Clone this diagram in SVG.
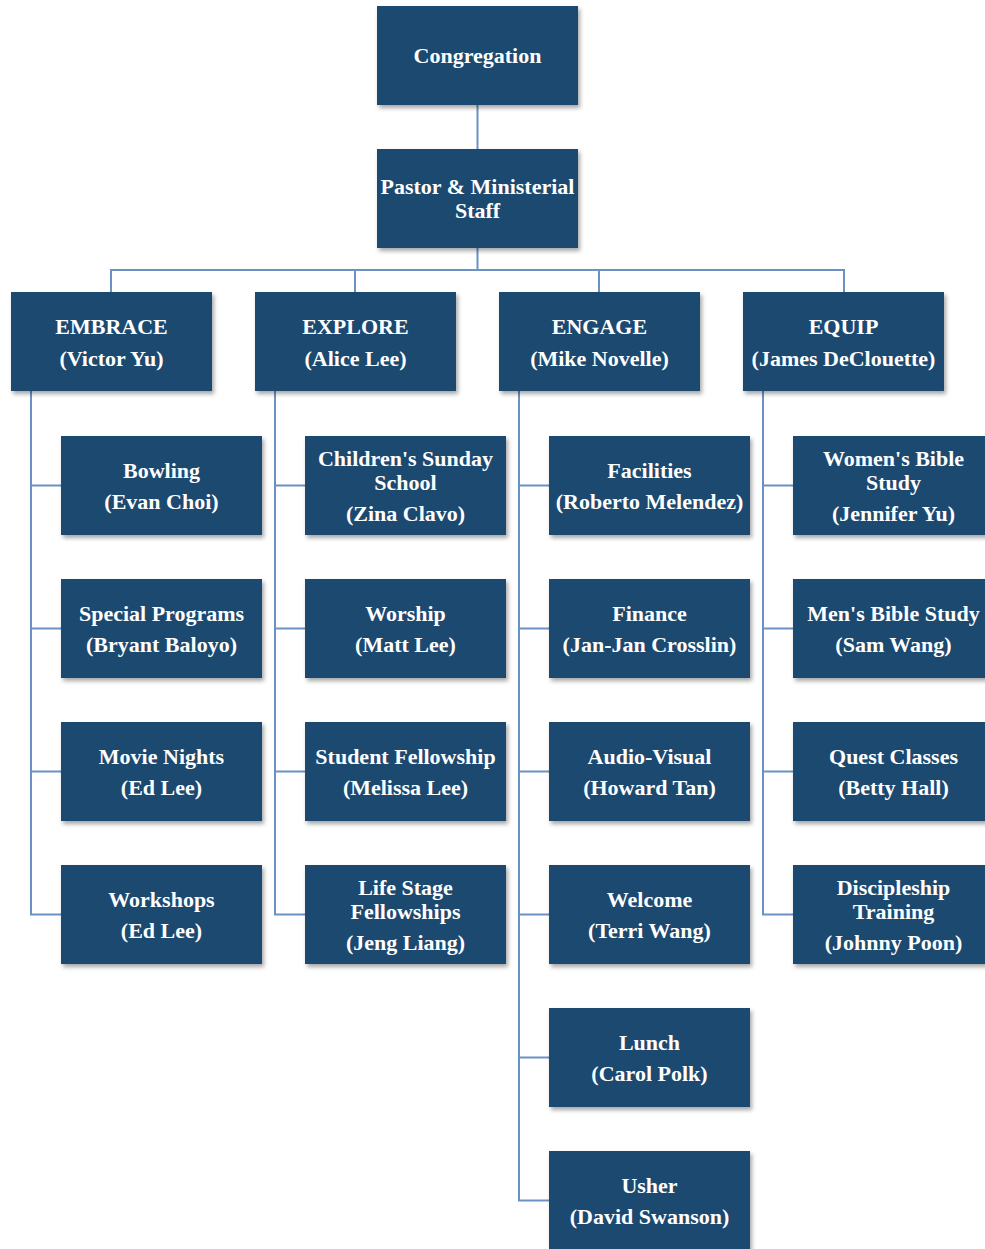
<svg xmlns="http://www.w3.org/2000/svg" width="985" height="1249" viewBox="0 0 985 1249">
<defs>
<filter id="sh" x="-10%" y="-10%" width="125%" height="130%">
<feDropShadow dx="2" dy="3" stdDeviation="2" flood-color="#000" flood-opacity="0.35"/>
</filter>
</defs>
<style>
.box{fill:#1F4870;filter:url(#sh);}
.t{font-family:"Liberation Serif","Times New Roman",serif;font-weight:bold;font-size:22px;fill:#fff;text-anchor:middle;}
.c{fill:none;stroke:#6A92C4;stroke-width:2;}
</style>
<rect width="985" height="1249" fill="#fff"/>
<g id="connectors">
<path class="c" d="M477.5 105V149M477.5 248V270M111 292V270H844V292M355 270V292M599 270V292"/>
<path class="c" d="M31 391V914.5H61M31 485.5H61M31 628.5H61M31 771.5H61"/>
<path class="c" d="M275 391V914.5H305M275 485.5H305M275 628.5H305M275 771.5H305"/>
<path class="c" d="M519 391V1200.5H549M519 485.5H549M519 628.5H549M519 771.5H549M519 914.5H549M519 1057.5H549"/>
<path class="c" d="M763 391V914.5H793M763 485.5H793M763 628.5H793M763 771.5H793"/>
</g>
<g id="congregation"><rect class="box" x="377" y="6" width="201" height="99"/><text class="t" x="477.5" y="63">Congregation</text></g>
<g id="pastor"><rect class="box" x="377" y="149" width="201" height="99"/><text class="t" x="477.5" y="194">Pastor &amp; Ministerial</text><text class="t" x="477.5" y="218">Staff</text></g>
<g id="embrace"><rect class="box" x="11" y="292" width="201" height="99"/><text class="t" x="111.5" y="334">EMBRACE</text><text class="t" x="111.5" y="366">(Victor Yu)</text></g>
<g id="explore"><rect class="box" x="255" y="292" width="201" height="99"/><text class="t" x="355.5" y="334">EXPLORE</text><text class="t" x="355.5" y="366">(Alice Lee)</text></g>
<g id="engage"><rect class="box" x="499" y="292" width="201" height="99"/><text class="t" x="599.5" y="334">ENGAGE</text><text class="t" x="599.5" y="366">(Mike Novelle)</text></g>
<g id="equip"><rect class="box" x="743" y="292" width="201" height="99"/><text class="t" x="843.5" y="334">EQUIP</text><text class="t" x="843.5" y="366">(James DeClouette)</text></g>

<g id="bowling"><rect class="box" x="61" y="436" width="201" height="99"/><text class="t" x="161.5" y="478">Bowling</text><text class="t" x="161.5" y="509">(Evan Choi)</text></g>
<g id="special-programs"><rect class="box" x="61" y="579" width="201" height="99"/><text class="t" x="161.5" y="621">Special Programs</text><text class="t" x="161.5" y="652">(Bryant Baloyo)</text></g>
<g id="movie-nights"><rect class="box" x="61" y="722" width="201" height="99"/><text class="t" x="161.5" y="764">Movie Nights</text><text class="t" x="161.5" y="795">(Ed Lee)</text></g>
<g id="workshops"><rect class="box" x="61" y="865" width="201" height="99"/><text class="t" x="161.5" y="907">Workshops</text><text class="t" x="161.5" y="938">(Ed Lee)</text></g>

<g id="childrens-sunday-school"><rect class="box" x="305" y="436" width="201" height="99"/><text class="t" x="405.5" y="466">Children's Sunday</text><text class="t" x="405.5" y="490">School</text><text class="t" x="405.5" y="521">(Zina Clavo)</text></g>
<g id="worship"><rect class="box" x="305" y="579" width="201" height="99"/><text class="t" x="405.5" y="621">Worship</text><text class="t" x="405.5" y="652">(Matt Lee)</text></g>
<g id="student-fellowship"><rect class="box" x="305" y="722" width="201" height="99"/><text class="t" x="405.5" y="764">Student Fellowship</text><text class="t" x="405.5" y="795">(Melissa Lee)</text></g>
<g id="life-stage-fellowships"><rect class="box" x="305" y="865" width="201" height="99"/><text class="t" x="405.5" y="895">Life Stage</text><text class="t" x="405.5" y="919">Fellowships</text><text class="t" x="405.5" y="950">(Jeng Liang)</text></g>

<g id="facilities"><rect class="box" x="549" y="436" width="201" height="99"/><text class="t" x="649.5" y="478">Facilities</text><text class="t" x="649.5" y="509">(Roberto Melendez)</text></g>
<g id="finance"><rect class="box" x="549" y="579" width="201" height="99"/><text class="t" x="649.5" y="621">Finance</text><text class="t" x="649.5" y="652">(Jan-Jan Crosslin)</text></g>
<g id="audio-visual"><rect class="box" x="549" y="722" width="201" height="99"/><text class="t" x="649.5" y="764">Audio-Visual</text><text class="t" x="649.5" y="795">(Howard Tan)</text></g>
<g id="welcome"><rect class="box" x="549" y="865" width="201" height="99"/><text class="t" x="649.5" y="907">Welcome</text><text class="t" x="649.5" y="938">(Terri Wang)</text></g>
<g id="lunch"><rect class="box" x="549" y="1008" width="201" height="99"/><text class="t" x="649.5" y="1050">Lunch</text><text class="t" x="649.5" y="1081">(Carol Polk)</text></g>
<g id="usher"><rect class="box" x="549" y="1151" width="201" height="99"/><text class="t" x="649.5" y="1193">Usher</text><text class="t" x="649.5" y="1224">(David Swanson)</text></g>

<g id="womens-bible-study"><rect class="box" x="793" y="436" width="201" height="99"/><text class="t" x="893.5" y="466">Women's Bible</text><text class="t" x="893.5" y="490">Study</text><text class="t" x="893.5" y="521">(Jennifer Yu)</text></g>
<g id="mens-bible-study"><rect class="box" x="793" y="579" width="201" height="99"/><text class="t" x="893.5" y="621">Men's Bible Study</text><text class="t" x="893.5" y="652">(Sam Wang)</text></g>
<g id="quest-classes"><rect class="box" x="793" y="722" width="201" height="99"/><text class="t" x="893.5" y="764">Quest Classes</text><text class="t" x="893.5" y="795">(Betty Hall)</text></g>
<g id="discipleship-training"><rect class="box" x="793" y="865" width="201" height="99"/><text class="t" x="893.5" y="895">Discipleship</text><text class="t" x="893.5" y="919">Training</text><text class="t" x="893.5" y="950">(Johnny Poon)</text></g>
</svg>
